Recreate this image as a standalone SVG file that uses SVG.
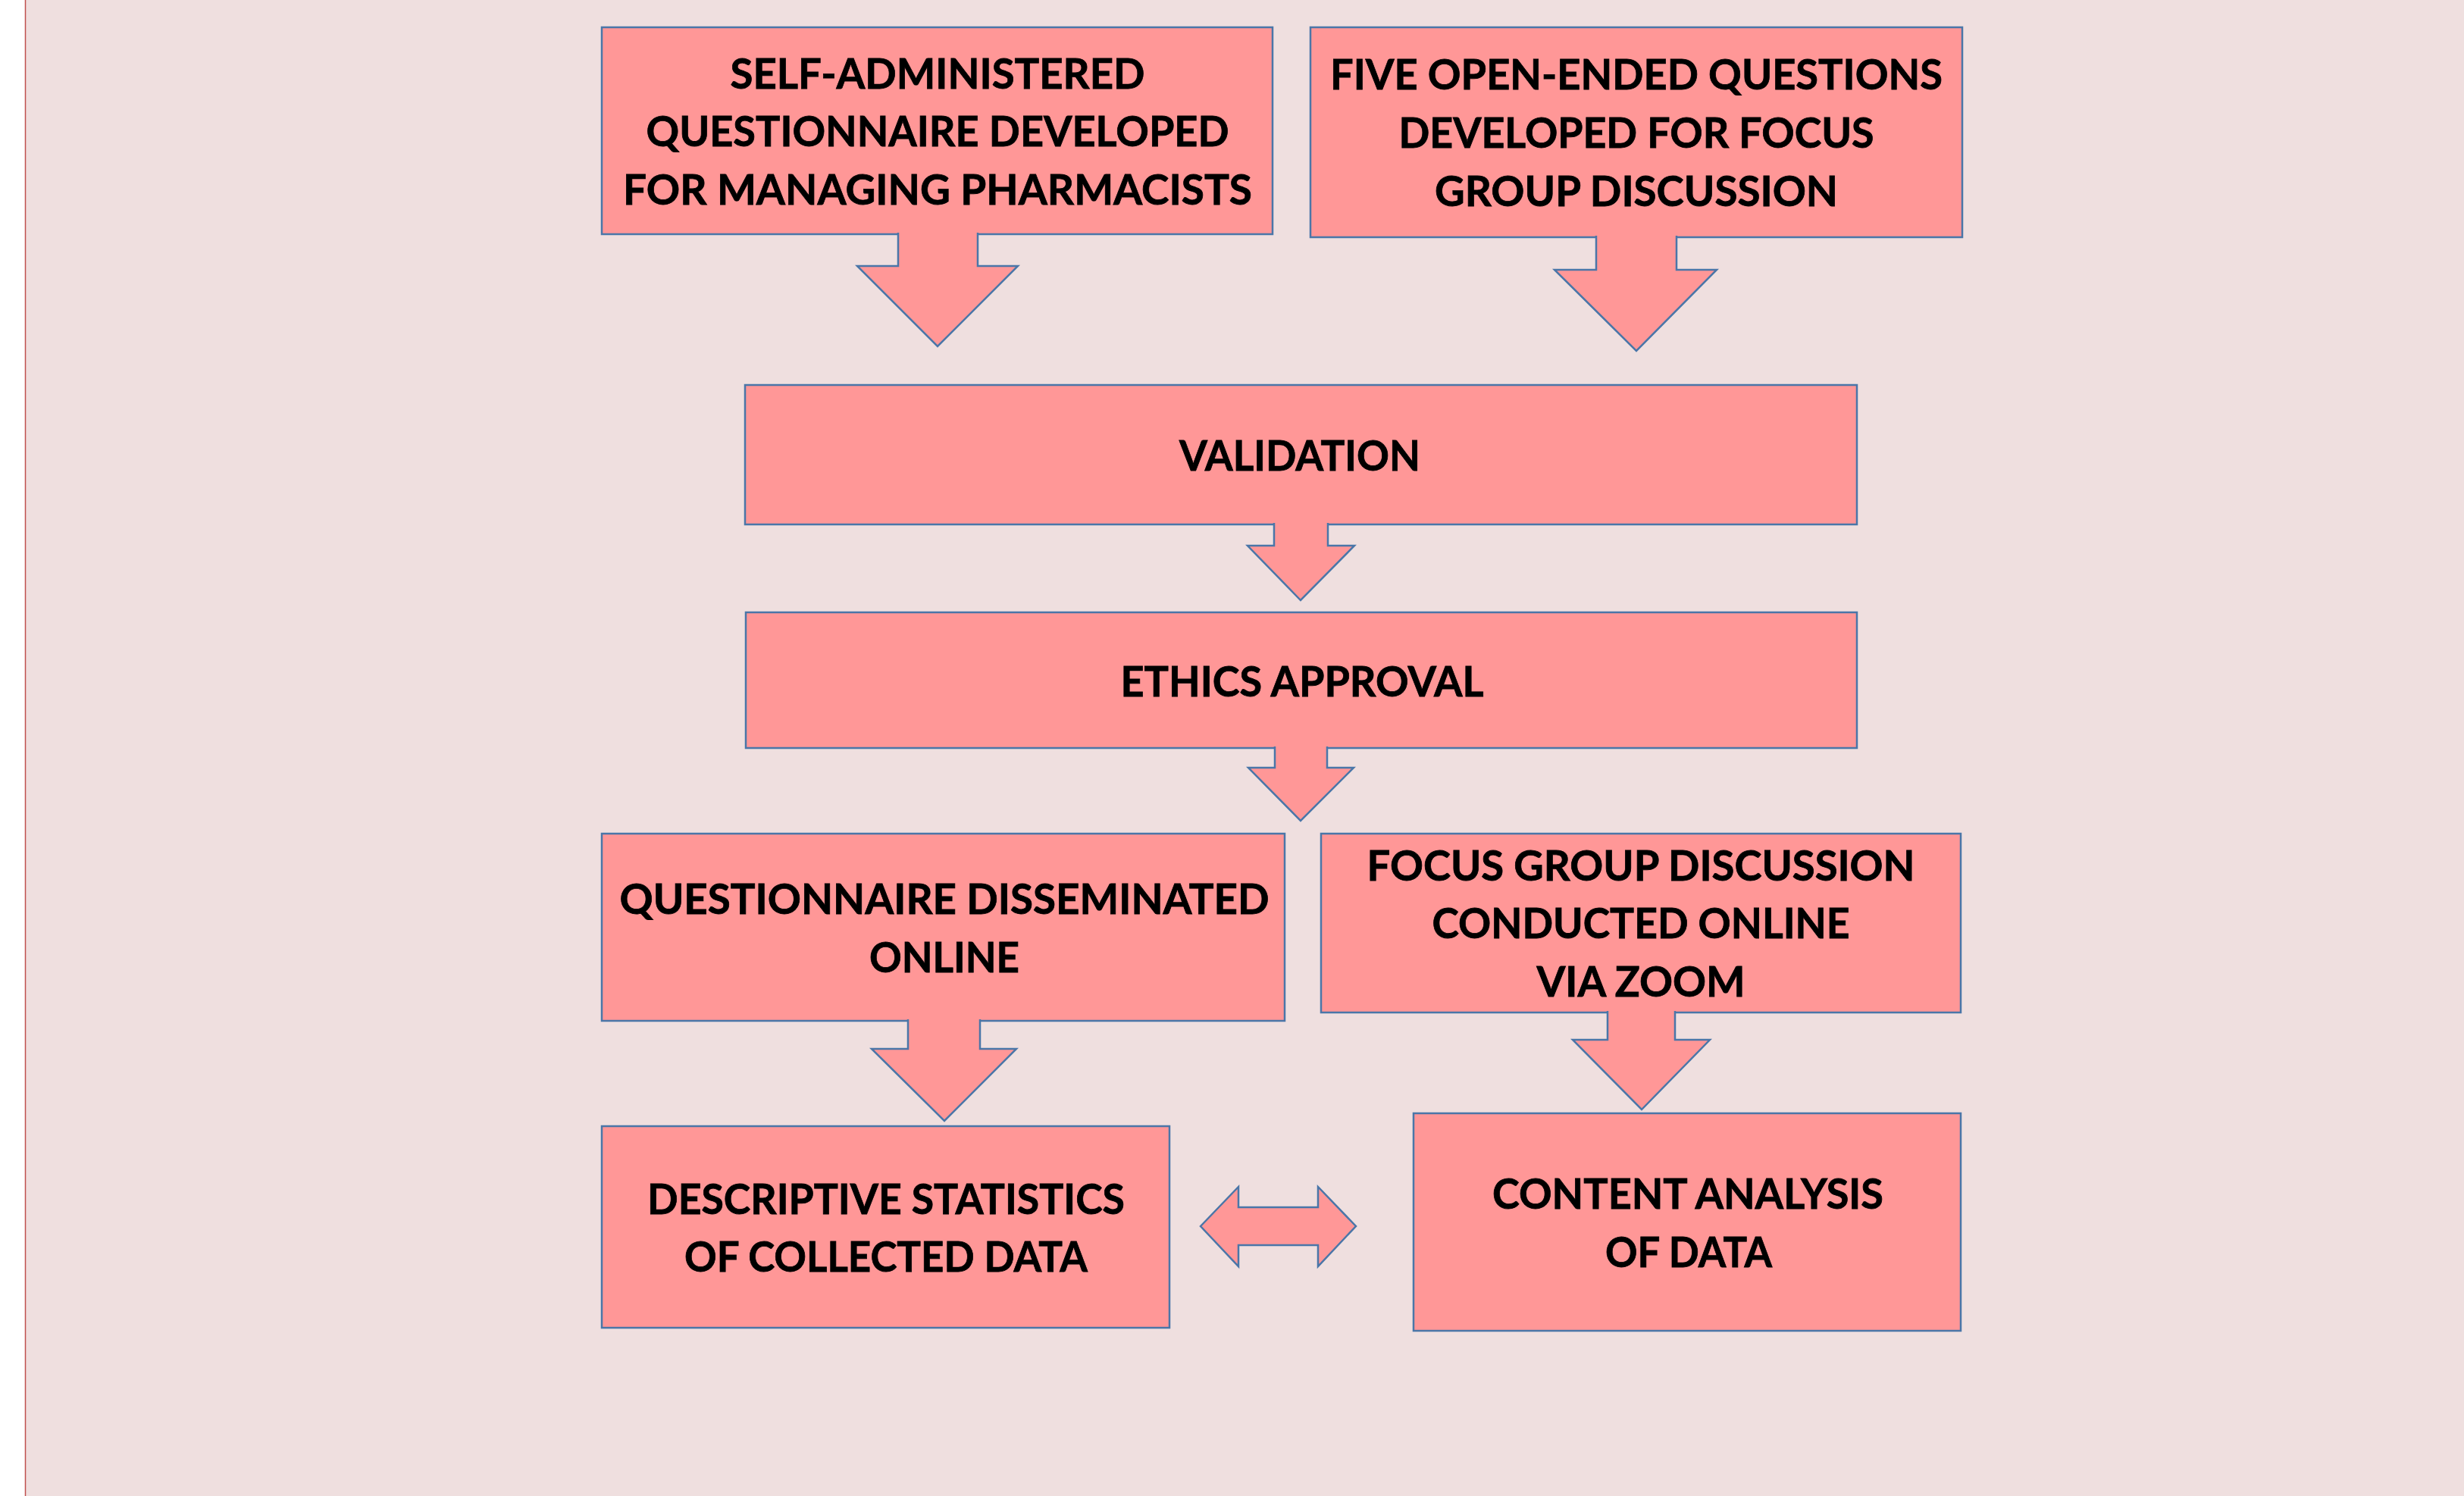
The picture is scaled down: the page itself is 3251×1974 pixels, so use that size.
<svg xmlns="http://www.w3.org/2000/svg" width="3251" height="1974" viewBox="0 0 3251 1974">
<style>
.box{fill:#FF9797;stroke:#4A76A8;stroke-width:2.5}
.arr{fill:#FF9797;stroke:#4A76A8;stroke-width:2.5;stroke-linejoin:miter}
.t{font-family:Lato,"Open Sans","Liberation Sans",sans-serif;font-weight:bold;font-size:56px;fill:#000;stroke:#000;stroke-width:0.8;text-anchor:middle}
</style>
<rect x="0" y="0" width="3251" height="1974" fill="#FFFFFF"/>
<rect x="33" y="0" width="3218" height="1974" fill="#EFDFDF"/>
<line x1="33.5" y1="0" x2="33.5" y2="1974" stroke="#C0504D" stroke-width="1.5"/>

<g id="node-self-administered">
<rect class="box" x="794" y="36" width="885" height="273"/>
<text class="t" x="1237" y="117" textLength="547" lengthAdjust="spacingAndGlyphs">SELF-ADMINISTERED</text>
<text class="t" x="1237" y="193" textLength="769" lengthAdjust="spacingAndGlyphs">QUESTIONNAIRE DEVELOPED</text>
<text class="t" x="1237" y="270" textLength="830" lengthAdjust="spacingAndGlyphs">FOR MANAGING PHARMACISTS</text>
</g>
<g id="node-five-questions">
<rect class="box" x="1729" y="36" width="860" height="277"/>
<text class="t" x="2159" y="118" textLength="808" lengthAdjust="spacingAndGlyphs">FIVE OPEN-ENDED QUESTIONS</text>
<text class="t" x="2159" y="195" textLength="627" lengthAdjust="spacingAndGlyphs">DEVELOPED FOR FOCUS</text>
<text class="t" x="2159" y="272" textLength="532" lengthAdjust="spacingAndGlyphs">GROUP DISCUSSION</text>
</g>
<g id="node-validation">
<rect class="box" x="983" y="508" width="1467" height="184"/>
<text class="t" x="1715" y="621" textLength="318" lengthAdjust="spacingAndGlyphs">VALIDATION</text>
</g>
<g id="node-ethics">
<rect class="box" x="984" y="808" width="1466" height="179"/>
<text class="t" x="1718" y="919" textLength="479" lengthAdjust="spacingAndGlyphs">ETHICS APPROVAL</text>
</g>
<g id="node-questionnaire-disseminated">
<rect class="box" x="794" y="1100" width="901" height="247"/>
<text class="t" x="1246" y="1206" textLength="857" lengthAdjust="spacingAndGlyphs">QUESTIONNAIRE DISSEMINATED</text>
<text class="t" x="1246" y="1283" textLength="198" lengthAdjust="spacingAndGlyphs">ONLINE</text>
</g>
<g id="node-focus-group">
<rect class="box" x="1743" y="1100" width="844" height="236"/>
<text class="t" x="2165" y="1162" textLength="723" lengthAdjust="spacingAndGlyphs">FOCUS GROUP DISCUSSION</text>
<text class="t" x="2165" y="1238" textLength="551" lengthAdjust="spacingAndGlyphs">CONDUCTED ONLINE</text>
<text class="t" x="2165" y="1315" textLength="275" lengthAdjust="spacingAndGlyphs">VIA ZOOM</text>
</g>
<g id="node-descriptive-statistics">
<rect class="box" x="794" y="1486" width="749" height="266"/>
<text class="t" x="1169" y="1602" textLength="630" lengthAdjust="spacingAndGlyphs">DESCRIPTIVE STATISTICS</text>
<text class="t" x="1169" y="1678" textLength="532" lengthAdjust="spacingAndGlyphs">OF COLLECTED DATA</text>
</g>
<g id="node-content-analysis">
<rect class="box" x="1865" y="1469" width="722" height="287"/>
<text class="t" x="2227" y="1595" textLength="516" lengthAdjust="spacingAndGlyphs">CONTENT ANALYSIS</text>
<text class="t" x="2228" y="1672" textLength="220" lengthAdjust="spacingAndGlyphs">OF DATA</text>
</g>

<g id="connectors">
<path class="arr" d="M1185,307 L1185,351 L1131,351 L1237,457 L1343,351 L1290,351 L1290,307"/>
<path class="arr" d="M2106,311 L2106,356 L2051,356 L2159,463 L2265,356 L2212,356 L2212,311"/>
<path class="arr" d="M1681,690 L1681,720 L1646,720 L1716,792 L1787,720 L1752,720 L1752,690"/>
<path class="arr" d="M1682,985 L1682,1013 L1647,1013 L1716,1083 L1786,1013 L1751,1013 L1751,985"/>
<path class="arr" d="M1198,1345 L1198,1384 L1150,1384 L1246,1479 L1341,1384 L1293,1384 L1293,1345"/>
<path class="arr" d="M2121,1334 L2121,1372 L2075,1372 L2166,1464 L2256,1372 L2210,1372 L2210,1334"/>
<path class="arr" d="M1584,1618 L1634,1566 L1634,1593 L1739,1593 L1739,1566 L1789,1618 L1739,1671 L1739,1643 L1634,1643 L1634,1671 Z"/>
</g>
</svg>
